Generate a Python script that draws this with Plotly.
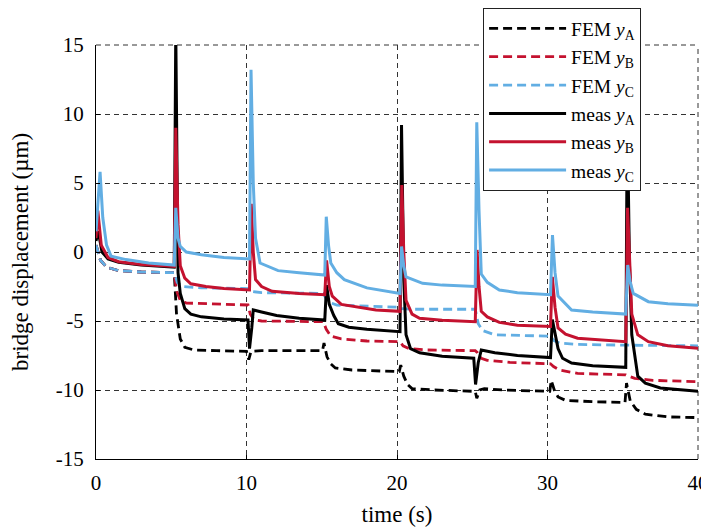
import plotly.graph_objects as go

# ---------------- data ----------------
x_ticks = [0, 10, 20, 30, 40]
x_tick_labels = ["0", "10", "20", "30", "40"]
y_ticks = [-15, -10, -5, 0, 5, 10, 15]
y_tick_labels = ["-15", "-10", "-5", "0", "5", "10", "15"]

series_names = ["FEM <i>y</i><sub>A</sub>", "FEM <i>y</i><sub>B</sub>", "FEM <i>y</i><sub>C</sub>",
                "meas <i>y</i><sub>A</sub>", "meas <i>y</i><sub>B</sub>", "meas <i>y</i><sub>C</sub>"]

# FEM y_A (black dashed)
fem_a_t = [0, 0.3, 0.7, 1.5, 3, 5.2,
           5.35, 5.6, 5.9, 6.5, 8, 10.0,
           10.15, 10.3, 11, 13, 15.05,
           15.15, 15.35, 15.6, 15.9, 17, 20.15,
           20.25, 20.45, 20.7, 21, 22.5, 25.2,
           25.3, 25.5, 25.8, 27, 30.15,
           30.25, 30.45, 30.7, 31.2, 33, 35.15,
           35.25, 35.5, 35.9, 36.5, 38, 40]
fem_a_y = [0.5, -0.6, -1.1, -1.35, -1.45, -1.5,
           -4.5, -6.3, -6.9, -7.1, -7.15, -7.2,
           -7.8, -7.2, -7.15, -7.15, -7.15,
           -6.6, -7.6, -8.1, -8.4, -8.55, -8.67,
           -8.2, -9.0, -9.6, -9.9, -10.0, -10.1,
           -10.6, -10.0, -9.9, -10.0, -10.1,
           -9.3, -10.0, -10.5, -10.75, -10.85, -10.9,
           -9.5, -10.8, -11.4, -11.75, -11.95, -12.0]

# FEM y_B (crimson dashed)
fem_b_t = [0, 0.3, 0.7, 1.5, 3, 5.2,
           5.35, 5.6, 6, 8, 10.1,
           10.25, 10.5, 11, 13, 15.1,
           15.3, 15.6, 16.3, 18, 20.2,
           20.4, 20.8, 22, 25.2,
           25.35, 25.6, 26, 27.5, 30.2,
           30.4, 30.8, 32, 35.2,
           35.4, 35.8, 37, 40]
fem_b_y = [0.5, -0.6, -1.1, -1.35, -1.45, -1.5,
           -2.8, -3.5, -3.7, -3.78, -3.84,
           -4.5, -4.9, -5.0, -5.05, -5.05,
           -5.6, -6.1, -6.3, -6.45, -6.5,
           -6.8, -7.0, -7.1, -7.15,
           -7.3, -7.7, -7.85, -8.0, -8.1,
           -8.3, -8.55, -8.8, -8.9,
           -9.0, -9.15, -9.3, -9.4]

# FEM y_C (light blue dashed)
fem_c_t = [0, 0.3, 0.7, 1.5, 3, 5.2,
           5.4, 5.7, 7, 10.1,
           10.3, 11, 15.1,
           15.4, 16, 20.1,
           20.3, 21, 25.2,
           25.4, 25.7, 26.5, 30.2,
           30.4, 30.8, 32, 35.2,
           35.4, 40]
fem_c_y = [0.5, -0.6, -1.1, -1.35, -1.45, -1.5,
           -2.2, -2.5, -2.6, -2.65,
           -2.85, -2.95, -3.0,
           -3.6, -3.85, -4.0,
           -4.1, -4.15, -4.15,
           -5.2, -5.7, -6.0, -6.1,
           -6.4, -6.6, -6.7, -6.75,
           -6.75, -6.8]

# measured y_A (black solid)
meas_a_t = [0, 0.15, 0.4, 0.8, 1.5, 3, 5.2,
            5.3, 5.45, 5.6, 5.9, 6.3, 7, 8.5, 10.1,
            10.2, 10.35, 10.45, 11, 12, 13.5, 15.2,
            15.32, 15.5, 15.8, 16.1, 16.8, 18, 20.2,
            20.3, 20.45, 20.6, 20.9, 21.5, 23, 25.1,
            25.22, 25.4, 25.6, 26.5, 28, 30.2,
            30.32, 30.5, 30.7, 31, 31.6, 33, 35.2,
            35.3, 35.45, 35.6, 36, 36.5, 37.5, 40]
meas_a_y = [0.8, 1.5, 0.0, -0.5, -0.75, -0.95, -1.1,
            16, -1.5, -3.0, -4.1, -4.5, -4.7, -4.85, -4.93,
            -7.0, -5.5, -4.2, -4.35, -4.6, -4.8, -4.93,
            -2.4, -3.8, -4.6, -5.2, -5.45, -5.6, -5.77,
            9.2, -2.0, -6.0, -7.0, -7.3, -7.55, -7.7,
            -9.6, -8.0, -7.1, -7.3, -7.5, -7.65,
            -4.9, -6.0, -7.0, -7.7, -8.05, -8.25, -8.36,
            10, -1.0, -6.0, -9.0, -9.5, -9.85, -10.1]

# measured y_B (crimson solid)
meas_b_t = [0, 0.12, 0.35, 0.8, 1.5, 3, 5.2,
            5.3, 5.45, 5.6, 5.9, 6.3, 7.3, 8.5, 10.2,
            10.32, 10.45, 10.6, 11, 11.7, 13.5, 15.2,
            15.32, 15.5, 15.7, 16.3, 18.6, 20.2,
            20.32, 20.45, 20.6, 21, 21.5, 23, 25.2,
            25.32, 25.45, 25.6, 26, 26.8, 28, 30.2,
            30.32, 30.5, 30.7, 31.2, 32, 35.2,
            35.32, 35.45, 35.6, 36, 36.7, 38, 40]
meas_b_y = [1.0, 3.0, 0.5, -0.4, -0.7, -0.9, -1.05,
            9.0, 2.0, -1.0, -1.9, -2.3, -2.5, -2.65, -2.75,
            3.5, 0.0, -2.0, -2.5, -2.85, -3.0, -3.1,
            -0.6, -2.5, -3.2, -3.8, -4.2, -4.3,
            4.85, 0.0, -3.5, -4.5, -4.8, -4.95, -5.05,
            0.15, -2.5, -4.3, -4.7, -5.1, -5.3, -5.4,
            -1.8, -4.0, -5.5, -5.95, -6.25, -6.5,
            3.2, 0.0, -4.5, -6.0, -6.5, -6.8, -6.98]

# measured y_C (light blue solid)
meas_c_t = [0, 0.27, 0.45, 0.7, 1.0, 2, 3.5, 5.2,
            5.3, 5.45, 5.6, 6, 7, 8.5, 10.2,
            10.3, 10.45, 10.6, 10.9, 12.1, 13.5, 15.2,
            15.3, 15.45, 15.6, 16, 16.5, 18, 20.2,
            20.3, 20.45, 20.6, 21.7, 23, 25.2,
            25.3, 25.45, 25.6, 26, 26.8, 28, 30.2,
            30.33, 30.5, 30.7, 31.6, 33, 35.2,
            35.33, 35.5, 35.7, 36.7, 38, 40]
meas_c_y = [1.5, 5.8, 2.5, 0.5, -0.3, -0.55, -0.8, -0.95,
            3.2, 1.0, 0.4, 0.0, -0.2, -0.4, -0.5,
            13.2, 5.0, 1.0, -0.8, -1.35, -1.5, -1.67,
            2.56, 0.5, -0.8, -1.5, -2.0, -2.6, -3.0,
            0.4, -1.0, -1.8, -2.27, -2.4, -2.5,
            9.4, 3.0, -1.6, -2.2, -2.75, -2.95, -3.1,
            1.23, -1.5, -3.2, -4.2, -4.35, -4.5,
            -0.94, -2.2, -3.0, -3.6, -3.75, -3.85]

# ---------------- styling ----------------
BLACK = "#000000"
CRIMSON = "#C4122F"
LBLUE = "#62AEE3"
FONT = "Liberation Serif"
GRID = "#333333"

fig = go.Figure()

dash_style = "9px,5px"
for name, tt, yy, col in [
    (series_names[0], fem_a_t, fem_a_y, BLACK),
    (series_names[1], fem_b_t, fem_b_y, CRIMSON),
    (series_names[2], fem_c_t, fem_c_y, LBLUE),
]:
    fig.add_trace(go.Scatter(x=tt, y=yy, mode="lines", name=name,
                             line=dict(color=col, width=2.8, dash=dash_style)))

for name, tt, yy, col in [
    (series_names[3], meas_a_t, meas_a_y, BLACK),
    (series_names[4], meas_b_t, meas_b_y, CRIMSON),
    (series_names[5], meas_c_t, meas_c_y, LBLUE),
]:
    fig.add_trace(go.Scatter(x=tt, y=yy, mode="lines", name=name,
                             line=dict(color=col, width=3)))

axis_common = dict(
    showgrid=True, gridcolor=GRID, gridwidth=1, griddash="5px,4px",
    zeroline=False, showline=True, linecolor="black", linewidth=1.2,
    ticks="inside", ticklen=4, tickcolor="black", automargin=False,
    tickfont=dict(family=FONT, size=21, color="black"),
)

fig.update_xaxes(range=[0, 40], tickvals=x_ticks, ticktext=x_tick_labels,
                 ticklabelstandoff=5,
                 title=dict(text="time (s)", font=dict(family=FONT, size=23, color="black"),
                            standoff=12),
                 **axis_common)
fig.update_yaxes(range=[-15, 15], tickvals=y_ticks, ticktext=y_tick_labels,
                 ticklabelstandoff=7,
                 title=dict(text="bridge displacement (µm)",
                            font=dict(family=FONT, size=23, color="black"), standoff=20),
                 **axis_common)

# dashed grid lines on the top and right edges of the plot area
fig.add_shape(type="line", xref="paper", yref="paper", x0=0, x1=1, y0=1, y1=1,
              line=dict(color=GRID, width=1, dash="5px,4px"), layer="below")
fig.add_shape(type="line", xref="paper", yref="paper", x0=1, x1=1, y0=0, y1=1,
              line=dict(color=GRID, width=1, dash="5px,4px"), layer="below")

# the page adds an 8px body margin, so the figure is 8px smaller and shifted
fig.update_layout(
    width=701, height=519,
    margin=dict(l=88, r=11, t=37, b=68, autoexpand=False),
    paper_bgcolor="white", plot_bgcolor="white",
    font=dict(family=FONT, size=21, color="black"),
    showlegend=True,
    legend=dict(x=0.643, y=1.089, xanchor="left", yanchor="top",
                bgcolor="white", bordercolor="#222222", borderwidth=1,
                font=dict(family=FONT, size=19.5, color="black"),
                itemwidth=77, tracegroupgap=0),
)

fig.write_html("out.html")
